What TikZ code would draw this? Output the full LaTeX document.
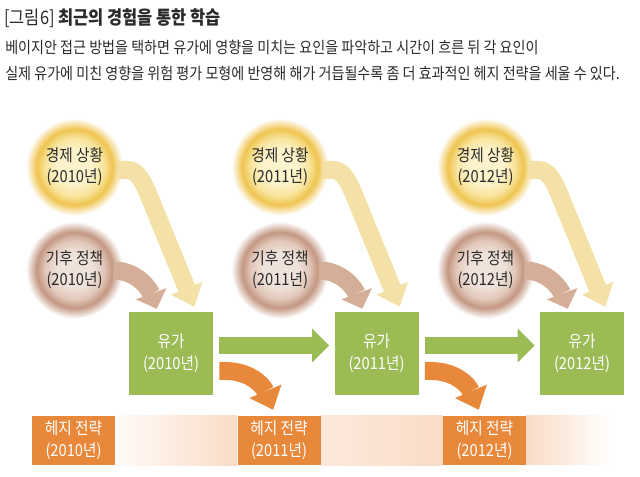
\documentclass[tikz,border=0pt]{standalone}
\usepackage{fontspec}
\newfontfamily\kr{Noto Sans CJK KR}[FakeStretch=0.88]
\usetikzlibrary{arrows.meta}
\definecolor{gboxc}{HTML}{9BBB55}
\definecolor{oboxc}{HTML}{E8883A}
\definecolor{yarr}{HTML}{F3E1A8}
\definecolor{barr}{HTML}{D4AE96}
\definecolor{txt}{HTML}{2A2A2A}
\definecolor{peach}{HTML}{FADCC6}
\definecolor{peachl}{HTML}{FCE9DC}
\definecolor{peachw}{HTML}{FFFBF8}
\definecolor{ycen}{HTML}{FCF3CC}
\definecolor{ymid}{HTML}{F8E49C}
\definecolor{yring}{HTML}{EFC450}
\definecolor{bcen}{HTML}{EFE2DA}
\definecolor{bmid}{HTML}{E2C8BA}
\definecolor{bring}{HTML}{C39782}
\pgfdeclareradialshading{yglow}{\pgfpoint{0bp}{0bp}}{color(0bp)=(ycen); color(9bp)=(ycen); color(15bp)=(ymid); color(19.5bp)=(yring); color(25bp)=(white); color(50bp)=(white)}
\pgfdeclareradialshading{bglow}{\pgfpoint{0bp}{0bp}}{color(0bp)=(bcen); color(9bp)=(bcen); color(15bp)=(bmid); color(19.5bp)=(bring); color(25bp)=(white); color(50bp)=(white)}
\pgfdeclarelayer{background}
\pgfsetlayers{background,main}
\begin{document}
\begin{tikzpicture}[x=0.75pt,y=-0.75pt,
  every node/.style={inner sep=0pt},
  lbl/.style={font=\kr\fontsize{12.5}{15.75}\selectfont, align=center},
  blbl/.style={font=\kr\fontsize{12.5}{16.5}\selectfont, align=center},
  ycirc/.style={circle, minimum size=73pt, shade, shading=yglow, lbl, text=txt},
  bcirc/.style={circle, minimum size=73pt, shade, shading=bglow, lbl, text=txt},
  greenbox/.style={rectangle, fill=gboxc, minimum width=63pt, minimum height=62.25pt, blbl, text=white},
  orangebox/.style={rectangle, fill=oboxc, minimum width=62.25pt, minimum height=36.75pt, blbl, text=white},
  yarrow/.style={draw=yarr, line width=13.5pt, -{Triangle[width=25.5pt,length=15pt,line width=0pt]}},
  barrow/.style={draw=barr, line width=13.5pt, -{Triangle[width=24.5pt,length=12pt,line width=0pt]}},
  garrow/.style={draw=gboxc, line width=12.75pt, -{Triangle[width=25.5pt,length=12.75pt,line width=0pt]}},
  oarrow/.style={draw=oboxc, line width=13.5pt, -{Triangle[width=26pt,length=15pt,line width=0pt]}}
]
\useasboundingbox (0,0) rectangle (640,477);

% heading
\node[anchor=west, font=\kr\fontsize{14}{16}\selectfont, text=txt] (title) at (4,18) {[그림6] {\bfseries 최근의 경험을 통한 학습}};
\node[anchor=west, font=\kr\fontsize{12}{14}\selectfont, text=txt] (l1) at (5,47) {베이지안 접근 방법을 택하면 유가에 영향을 미치는 요인을 파악하고 시간이 흐른 뒤 각 요인이};
\node[anchor=west, font=\kr\fontsize{12}{14}\selectfont, text=txt] (l2) at (5,73) {실제 유가에 미친 영향을 위험 평가 모형에 반영해 해가 거듭될수록 좀 더 효과적인 헤지 전략을 세울 수 있다.};

% circles
\node[ycirc] (e1) at (74.5,167) {경제 상황\\(2010년)};
\node[ycirc] (e2) at (280,167) {경제 상황\\(2011년)};
\node[ycirc] (e3) at (485.5,167) {경제 상황\\(2012년)};
\node[bcirc] (b1) at (74.5,270) {기후 정책\\(2010년)};
\node[bcirc] (b2) at (280,270) {기후 정책\\(2011년)};
\node[bcirc] (b3) at (485.5,270) {기후 정책\\(2012년)};

% oil price boxes
\node[greenbox] (g1) at (171,353.5) {유가\\(2010년)};
\node[greenbox] (g2) at (376.5,353.5) {유가\\(2011년)};
\node[greenbox] (g3) at (582,353.5) {유가\\(2012년)};

% hedge boxes
\node[orangebox] (h1) at (73.5,440.5) {헤지 전략\\(2010년)};
\node[orangebox] (h2) at (279,440.5) {헤지 전략\\(2011년)};
\node[orangebox] (h3) at (484.5,440.5) {헤지 전략\\(2012년)};
\coordinate (bandend) at (612,465);

\begin{pgfonlayer}{background}
\shade[left color=peachw, right color=peach] (h1.north east) rectangle (h2.south west);
\shade[left color=peachl, right color=peach] (h2.north east) rectangle (h3.south west);
\shade[left color=peach, right color=white] (h3.north east) rectangle (bandend);
\end{pgfonlayer}

% brown arrows
\draw[barrow] ([shift={(-10,0.5)}]b1.east) .. controls +(24,0) and +(-7,-19) .. ([shift={(28,-3)}]g1.north west);
\draw[barrow] ([shift={(-10,0.5)}]b2.east) .. controls +(24,0) and +(-7,-19) .. ([shift={(28,-3)}]g2.north west);
\draw[barrow] ([shift={(-10,0.5)}]b3.east) .. controls +(24,0) and +(-7,-19) .. ([shift={(28,-3)}]g3.north west);

% yellow arrows
\draw[yarrow] ([shift={(-6,3)}]e1.east) -- ++(10,0) .. controls +(10,0) and +(-5,-11) .. ++(20,22) -- ([shift={(-19,-5)}]g1.north east);
\draw[yarrow] ([shift={(-6,3)}]e2.east) -- ++(10,0) .. controls +(10,0) and +(-5,-11) .. ++(20,22) -- ([shift={(-19,-5)}]g2.north east);
\draw[yarrow] ([shift={(-6,3)}]e3.east) -- ++(10,0) .. controls +(10,0) and +(-5,-11) .. ++(20,22) -- ([shift={(-19,-5)}]g3.north east);

% green arrows
\draw[garrow] ([shift={(6,-8)}]g1.east) -- ([shift={(-5,-8)}]g2.west);
\draw[garrow] ([shift={(6,-8)}]g2.east) -- ([shift={(-5,-8)}]g3.west);

% orange arrows
\draw[oarrow] ([shift={(6,17.5)}]g1.east) -- ++(6,0) .. controls +(23,0) and +(-11,-26) .. ([shift={(36,-6)}]h2.north west);
\draw[oarrow] ([shift={(6,17.5)}]g2.east) -- ++(6,0) .. controls +(23,0) and +(-11,-26) .. ([shift={(36,-6)}]h3.north west);
\end{tikzpicture}
\end{document}
